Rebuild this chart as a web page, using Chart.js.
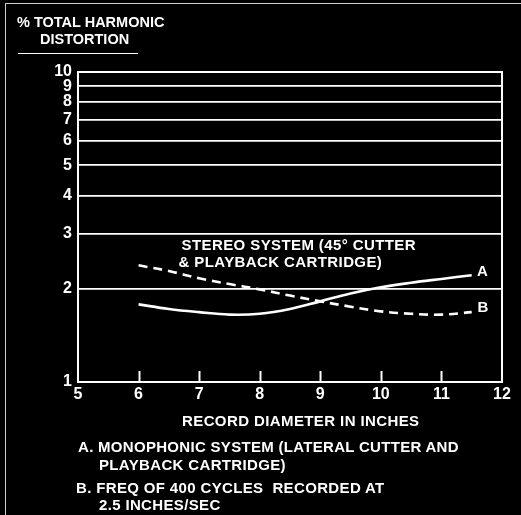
<!DOCTYPE html>
<html>
<head>
<meta charset="utf-8">
<script src="https://cdn.jsdelivr.net/npm/chart.js@4/dist/chart.umd.min.js"></script>
<style>
  html, body { margin:0; padding:0; background:#000; }
  #wrap { position:relative; width:521px; height:515px; background:#000; overflow:hidden; }
  #frame { position:absolute; left:5px; top:3px; width:530px; height:530px; border-top:1.5px solid #cfcfcf; border-left:1.5px solid #cfcfcf; }
  canvas { position:absolute; left:0; top:0; }
  .t { position:absolute; color:#fff; font-family:"Liberation Sans", Arial, sans-serif; font-weight:bold; font-size:15px; line-height:15px; white-space:nowrap; }
  #uline { position:absolute; left:18px; top:52.5px; width:120px; height:1.6px; background:#fff; }
</style>
</head>
<body>
<div id="wrap">
  <div id="frame"></div>
  <canvas id="c" width="521" height="515"></canvas>
  <div class="t" style="left:17px; top:14.5px; font-size:14.5px;">% TOTAL HARMONIC</div>
  <div class="t" style="left:40px; top:32px; font-size:14.5px;">DISTORTION</div>
  <div id="uline"></div>
  <div class="t" style="left:182px; top:413px; letter-spacing:0.4px;">RECORD DIAMETER IN INCHES</div>
  <div class="t" style="left:78px; top:439px; letter-spacing:0.3px;">A. MONOPHONIC SYSTEM (LATERAL CUTTER AND</div>
  <div class="t" style="left:99px; top:456.5px; letter-spacing:0.35px;">PLAYBACK CARTRIDGE)</div>
  <div class="t" style="left:76px; top:480px; letter-spacing:0.35px;">B. FREQ OF 400 CYCLES&nbsp; RECORDED AT</div>
  <div class="t" style="left:99px; top:497px; letter-spacing:0.35px;">2.5 INCHES/SEC</div>
</div>
<script>
// ---- data ----
const diameters = [6, 6.5, 7, 7.5, 8, 8.5, 9, 9.5, 10, 10.5, 11, 11.5];
const monoA   = [1.78, 1.72, 1.68, 1.65, 1.66, 1.72, 1.82, 1.93, 2.02, 2.09, 2.15, 2.21];
const stereoB = [2.38, 2.28, 2.16, 2.07, 1.99, 1.90, 1.82, 1.75, 1.69, 1.66, 1.65, 1.68];
const yTicks = [1, 2, 3, 4, 5, 6, 7, 8, 9, 10];
const xTicks = [5, 6, 7, 8, 9, 10, 11, 12];
const innerTicks = [6, 7, 8, 9, 10, 11];
const annotationLines = ["STEREO SYSTEM (45° CUTTER", "& PLAYBACK CARTRIDGE)"];

Chart.defaults.font.family = '"Liberation Sans", Arial, sans-serif';
Chart.defaults.font.weight = 'bold';
Chart.defaults.color = '#fff';

const toPts = (xs, ys) => xs.map((x, i) => ({ x: x, y: ys[i] }));

const overlay = {
  id: 'overlay',
  afterDraw(chart) {
    const ctx = chart.ctx, a = chart.chartArea;
    const xs = chart.scales.x, ys = chart.scales.y;
    ctx.save();
    ctx.strokeStyle = '#fff';
    ctx.lineWidth = 2;
    ctx.strokeRect(a.left, a.top, a.right - a.left, a.bottom - a.top);
    innerTicks.forEach(v => {
      const px = Math.round(xs.getPixelForValue(v)) + 0.5;
      ctx.beginPath();
      ctx.moveTo(px, a.bottom);
      ctx.lineTo(px, a.bottom - 11);
      ctx.stroke();
    });
    ctx.fillStyle = '#fff';
    ctx.font = 'bold 15px "Liberation Sans", Arial, sans-serif';
    ctx.textBaseline = 'middle';
    ctx.textAlign = 'left';
    if ('letterSpacing' in ctx) ctx.letterSpacing = '0.4px';
    ctx.fillText(annotationLines[0], xs.getPixelForValue(6.71), ys.getPixelForValue(2.75));
    ctx.fillText(annotationLines[1], xs.getPixelForValue(6.66), ys.getPixelForValue(2.42));
    ctx.textAlign = 'center';
    ctx.fillText('A', xs.getPixelForValue(11.68), ys.getPixelForValue(2.27));
    ctx.fillText('B', xs.getPixelForValue(11.69), ys.getPixelForValue(1.73));
    ctx.restore();
  }
};

new Chart(document.getElementById('c'), {
  type: 'line',
  data: {
    datasets: [
      { label: 'A', data: toPts(diameters, monoA), borderColor: '#fff', borderWidth: 2.6, pointRadius: 0, tension: 0.4, fill: false },
      { label: 'B', data: toPts(diameters, stereoB), borderColor: '#fff', borderWidth: 2.6, borderDash: [9, 6], pointRadius: 0, tension: 0.4, fill: false }
    ]
  },
  options: {
    responsive: false,
    animation: false,
    devicePixelRatio: 1,
    layout: { padding: { left: 0, right: 19, top: 72, bottom: 103 } },
    plugins: { legend: { display: false }, tooltip: { enabled: false }, title: { display: false } },
    scales: {
      x: {
        type: 'linear', min: 5, max: 12,
        afterBuildTicks: s => { s.ticks = xTicks.map(v => ({ value: v })); },
        afterFit: s => { s.height = 30; },
        ticks: { color: '#fff', font: { size: 16, weight: 'bold' }, padding: 3, callback: v => String(v) },
        grid: { display: false, drawTicks: false },
        border: { display: true, color: '#fff', width: 2 }
      },
      y: {
        type: 'logarithmic', min: 1, max: 10,
        afterBuildTicks: s => { s.ticks = yTicks.map(v => ({ value: v })); },
        afterFit: s => { s.width = 78; },
        ticks: { color: '#fff', font: { size: 16, weight: 'bold' }, padding: 6, callback: v => String(v) },
        grid: { color: '#fff', lineWidth: 1.7, drawTicks: false },
        border: { display: true, color: '#fff', width: 2 }
      }
    }
  },
  plugins: [overlay]
});
</script>
</body>
</html>
